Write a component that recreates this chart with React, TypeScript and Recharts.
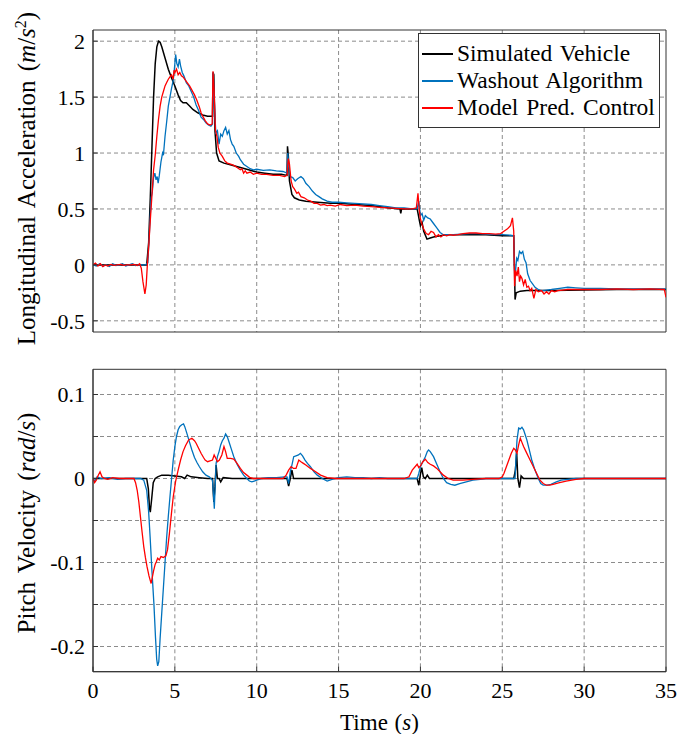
import { CartesianGrid, Legend, Line, LineChart, ReferenceArea, XAxis, YAxis } from 'recharts';

// time (s) ticks shared by both panels
const timeTicks = [0, 5, 10, 15, 20, 25, 30, 35];
const timeGrid = [5, 10, 15, 20, 25, 30];
const accTicks = [-0.5, 0, 0.5, 1, 1.5, 2];
const pitchTicks = [-0.2, -0.15, -0.1, -0.05, 0, 0.05, 0.1];

const seriesNames = ['Simulated Vehicle', 'Washout Algorithm', 'Model Pred. Control'];
const seriesColors = ['#000000', '#0072BD', '#FF0000'];

// longitudinal acceleration, [t, a]
const vehicleAcc: [number, number][] = [
  [0, 0], [1, 0], [2, 0], [3, 0], [3.28, 0], [3.4, 0.2], [3.5, 0.6], [3.6, 1.05], [3.7, 1.5], [3.8, 1.8],
  [3.9, 1.95], [4.0, 2.0], [4.1, 1.99], [4.2, 1.95], [4.4, 1.85], [4.6, 1.75], [4.8, 1.67], [5.0, 1.6],
  [5.2, 1.52], [5.35, 1.47], [5.5, 1.45], [5.7, 1.45], [5.9, 1.42], [6.1, 1.39], [6.4, 1.36], [6.7, 1.34],
  [7.0, 1.33], [7.3, 1.33], [7.33, 1.72], [7.38, 1.7], [7.45, 1.2], [7.55, 1.0], [7.7, 0.93], [8.0, 0.91],
  [8.5, 0.89], [9.0, 0.87], [9.5, 0.85], [10.0, 0.83], [10.5, 0.82], [11.0, 0.81], [11.5, 0.81],
  [11.85, 0.8], [11.88, 1.06], [11.93, 0.98], [12.0, 0.75], [12.15, 0.63], [12.3, 0.6], [12.6, 0.58],
  [13.0, 0.57], [13.7, 0.56], [14.5, 0.55], [15.1, 0.55], [16, 0.54], [17, 0.53], [18, 0.51],
  [18.75, 0.5], [18.8, 0.46], [18.85, 0.5], [19.5, 0.5], [19.8, 0.5], [19.88, 0.44], [19.93, 0.4],
  [20.0, 0.35], [20.1, 0.38], [20.2, 0.3], [20.4, 0.23], [20.6, 0.24], [20.8, 0.25], [21.2, 0.26],
  [21.6, 0.27], [22, 0.27], [23, 0.27], [24, 0.27], [25, 0.26], [25.7, 0.26], [25.75, -0.05],
  [25.78, -0.31], [25.85, -0.25], [26.1, -0.235], [26.5, -0.23], [27, -0.23], [28, -0.23],
  [30, -0.225], [32, -0.22], [35, -0.22],
];

const washoutAcc: [number, number][] = [
  [0, 0], [0.2, -0.01], [0.4, 0.01], [0.6, -0.01], [0.8, 0], [1.0, -0.015], [1.2, 0.01], [1.4, -0.005],
  [1.6, 0], [1.8, 0.01], [2.0, -0.01], [2.2, 0], [2.4, 0.01], [2.6, -0.005], [2.8, 0], [3.0, 0], [3.2, 0],
  [3.35, 0.02], [3.45, 0.3], [3.55, 0.6], [3.62, 0.65], [3.7, 0.78], [3.78, 0.82], [3.85, 0.76],
  [3.92, 0.79], [3.98, 0.73], [4.05, 0.8], [4.15, 0.92], [4.25, 1.0], [4.3, 0.98], [4.4, 1.15],
  [4.5, 1.28], [4.6, 1.42], [4.7, 1.5], [4.8, 1.58], [4.9, 1.65], [4.97, 1.75], [5.05, 1.88],
  [5.12, 1.8], [5.2, 1.77], [5.28, 1.84], [5.35, 1.78], [5.45, 1.72], [5.55, 1.69], [5.7, 1.63],
  [5.85, 1.6], [6.0, 1.55], [6.15, 1.5], [6.3, 1.43], [6.45, 1.38], [6.6, 1.32], [6.75, 1.3],
  [6.9, 1.27], [7.05, 1.25], [7.2, 1.24], [7.3, 1.26], [7.34, 1.72], [7.4, 1.5], [7.5, 1.18],
  [7.6, 1.2], [7.7, 1.08], [7.8, 1.17], [7.9, 1.15], [8.0, 1.2], [8.1, 1.23], [8.2, 1.17], [8.3, 1.2],
  [8.4, 1.12], [8.5, 1.08], [8.6, 1.06], [8.75, 1.0], [8.9, 0.97], [9.0, 0.94], [9.2, 0.9],
  [9.4, 0.88], [9.6, 0.86], [9.8, 0.85], [10.0, 0.855], [10.4, 0.845], [10.8, 0.85], [11.2, 0.84],
  [11.6, 0.835], [11.85, 0.82], [11.9, 1.0], [11.95, 0.88], [12.05, 0.79], [12.2, 0.78], [12.35, 0.75],
  [12.5, 0.77], [12.7, 0.79], [12.85, 0.77], [13.0, 0.73], [13.2, 0.7], [13.4, 0.66], [13.6, 0.63],
  [13.8, 0.61], [14.0, 0.59], [14.3, 0.57], [14.6, 0.56], [15, 0.56], [15.5, 0.555], [16, 0.55],
  [16.5, 0.545], [17, 0.54], [17.5, 0.53], [18, 0.52], [18.5, 0.51], [19, 0.51], [19.5, 0.5],
  [19.8, 0.5], [19.9, 0.57], [20.0, 0.44], [20.1, 0.46], [20.2, 0.4], [20.3, 0.44], [20.45, 0.42],
  [20.6, 0.41], [20.8, 0.37], [21.0, 0.33], [21.2, 0.29], [21.4, 0.27], [21.7, 0.27], [22, 0.27],
  [22.5, 0.275], [23, 0.28], [23.5, 0.28], [24, 0.275], [24.5, 0.27], [25, 0.27], [25.5, 0.265],
  [25.7, 0.26], [25.75, -0.05], [25.8, -0.07], [25.88, 0.06], [25.95, 0.04], [26.05, 0.12],
  [26.15, 0.1], [26.25, 0.12], [26.35, 0.05], [26.45, 0.02], [26.55, -0.08], [26.7, -0.14],
  [26.85, -0.17], [27.0, -0.2], [27.2, -0.22], [27.4, -0.23], [27.7, -0.225], [28.0, -0.22],
  [28.5, -0.21], [29.0, -0.2], [29.5, -0.205], [30, -0.21], [31, -0.21], [32, -0.215], [33, -0.215],
  [34, -0.215], [35, -0.215],
];

const mpcAcc: [number, number][] = [
  [0, 0], [0.15, 0.015], [0.3, -0.01], [0.45, 0.01], [0.6, -0.015], [0.75, 0], [0.9, -0.01],
  [1.1, 0.005], [1.3, -0.005], [1.5, 0], [1.7, 0.005], [1.9, -0.005], [2.1, 0], [2.3, 0], [2.5, 0.005],
  [2.7, -0.005], [2.85, 0.01], [2.95, -0.03], [3.05, -0.15], [3.17, -0.26], [3.25, -0.18], [3.32, 0],
  [3.4, 0.16], [3.5, 0.4], [3.6, 0.62], [3.7, 0.85], [3.8, 0.98], [3.9, 1.15], [4.0, 1.3], [4.1, 1.42],
  [4.2, 1.5], [4.3, 1.55], [4.4, 1.6], [4.5, 1.63], [4.6, 1.66], [4.7, 1.68], [4.8, 1.7], [4.9, 1.66],
  [4.95, 1.74], [5.0, 1.72], [5.1, 1.75], [5.2, 1.7], [5.3, 1.72], [5.4, 1.69], [5.5, 1.68],
  [5.6, 1.66], [5.75, 1.63], [5.9, 1.6], [6.05, 1.56], [6.2, 1.52], [6.35, 1.47], [6.5, 1.41],
  [6.6, 1.36], [6.7, 1.33], [6.85, 1.29], [7.0, 1.26], [7.15, 1.25], [7.28, 1.26], [7.33, 1.73],
  [7.4, 1.55], [7.48, 1.2], [7.57, 1.15], [7.65, 1.05], [7.75, 1.0], [7.9, 0.97], [8.05, 0.93],
  [8.2, 0.91], [8.4, 0.9], [8.6, 0.89], [8.8, 0.87], [9.0, 0.85], [9.1, 0.86], [9.2, 0.82], [9.3, 0.84],
  [9.4, 0.82], [9.6, 0.83], [9.8, 0.81], [10.0, 0.82], [10.3, 0.81], [10.6, 0.81], [11.0, 0.8],
  [11.4, 0.8], [11.7, 0.79], [11.85, 0.8], [11.93, 0.95], [12.0, 0.9], [12.1, 0.75], [12.2, 0.7],
  [12.3, 0.68], [12.45, 0.64], [12.55, 0.65], [12.7, 0.61], [12.9, 0.6], [13.1, 0.58], [13.3, 0.57],
  [13.5, 0.55], [13.7, 0.55], [13.9, 0.535], [14.1, 0.54], [14.3, 0.53], [14.5, 0.535], [14.8, 0.525],
  [15.1, 0.54], [15.5, 0.53], [16, 0.535], [16.5, 0.525], [17, 0.52], [17.5, 0.515], [18, 0.51],
  [18.5, 0.505], [19, 0.5], [19.5, 0.5], [19.75, 0.51], [19.85, 0.64], [19.92, 0.5], [20.0, 0.41],
  [20.1, 0.36], [20.2, 0.32], [20.35, 0.28], [20.5, 0.27], [20.65, 0.3], [20.8, 0.29], [20.95, 0.25],
  [21.1, 0.27], [21.25, 0.25], [21.4, 0.27], [21.6, 0.26], [21.8, 0.27], [22, 0.265], [22.3, 0.27],
  [22.6, 0.28], [23, 0.285], [23.4, 0.285], [23.8, 0.28], [24.2, 0.28], [24.6, 0.275], [24.9, 0.28],
  [25.1, 0.3], [25.3, 0.32], [25.5, 0.35], [25.62, 0.42], [25.7, 0.3], [25.75, -0.19], [25.82, -0.05],
  [25.9, -0.1], [25.98, -0.02], [26.05, -0.15], [26.12, -0.1], [26.2, -0.12], [26.3, -0.18],
  [26.4, -0.13], [26.5, -0.2], [26.6, -0.19], [26.7, -0.23], [26.8, -0.21], [26.93, -0.3],
  [27.05, -0.22], [27.2, -0.24], [27.4, -0.23], [27.55, -0.26], [27.7, -0.24], [27.85, -0.26],
  [28.0, -0.23], [28.2, -0.24], [28.4, -0.23], [28.7, -0.225], [29.0, -0.22], [29.5, -0.22],
  [30, -0.22], [31, -0.22], [32, -0.215], [33, -0.22], [34, -0.215], [34.9, -0.22], [35, -0.29],
];

// pitch velocity, [t, q]
const vehiclePitch: [number, number][] = [
  [0, 0], [1, 0], [2, 0], [3, 0], [3.28, 0], [3.38, -0.012], [3.45, -0.035], [3.5, -0.04],
  [3.58, -0.025], [3.68, -0.005], [3.8, 0], [3.95, 0.002], [4.2, 0.004], [4.6, 0.004], [5.0, 0.003],
  [5.4, 0.002], [5.6, 0], [5.75, 0.004], [6.0, 0.002], [6.5, 0.001], [7.0, 0], [7.3, 0],
  [7.38, -0.028], [7.45, -0.01], [7.52, 0.016], [7.6, 0], [7.7, 0], [7.8, -0.004], [7.95, 0.001],
  [8.5, 0], [9, 0], [10, 0], [11, 0], [11.85, 0], [11.95, -0.009], [12.05, 0], [12.15, 0.01],
  [12.25, 0], [12.5, 0], [13, 0], [15, 0], [17, 0], [19, 0], [19.8, 0], [19.9, -0.008], [20.0, 0.005],
  [20.08, 0.013], [20.18, 0.002], [20.3, 0], [20.42, 0.004], [20.55, 0], [22, 0], [24, 0], [25.7, 0],
  [25.8, 0.01], [25.88, 0.03], [25.95, 0], [26.05, -0.011], [26.15, 0.003], [26.3, 0], [27, 0],
  [30, 0], [35, 0],
];

const washoutPitch: [number, number][] = [
  [0, 0], [0.1, -0.003], [0.25, 0.002], [0.5, 0], [1, 0.001], [1.5, -0.001], [2, 0], [2.5, 0],
  [2.9, 0], [3.1, -0.002], [3.28, -0.014], [3.4, -0.04], [3.49, -0.07], [3.6, -0.11], [3.72, -0.149],
  [3.82, -0.19], [3.89, -0.215], [3.95, -0.223], [4.02, -0.218], [4.1, -0.19], [4.2, -0.16],
  [4.3, -0.13], [4.4, -0.1], [4.5, -0.07], [4.6, -0.045], [4.7, -0.022], [4.8, 0], [4.9, 0.022],
  [5.0, 0.038], [5.1, 0.05], [5.2, 0.058], [5.3, 0.062], [5.42, 0.064], [5.53, 0.065], [5.6, 0.062],
  [5.73, 0.054], [5.9, 0.043], [6.04, 0.034], [6.2, 0.025], [6.35, 0.019], [6.5, 0.014], [6.7, 0.008],
  [6.9, 0.004], [7.1, 0.002], [7.3, -0.002], [7.36, -0.02], [7.41, -0.036], [7.46, -0.01],
  [7.52, 0.018], [7.6, 0.026], [7.7, 0.032], [7.8, 0.04], [7.9, 0.045], [8.0, 0.048], [8.1, 0.053],
  [8.2, 0.05], [8.3, 0.044], [8.45, 0.035], [8.6, 0.026], [8.8, 0.017], [9.0, 0.01], [9.2, 0.004],
  [9.4, 0], [9.55, -0.003], [9.7, -0.004], [9.85, -0.003], [10.0, -0.002], [10.3, 0], [10.7, 0.001],
  [11.2, 0.001], [11.7, 0.002], [11.85, 0.002], [11.95, -0.006], [12.05, 0.008], [12.15, 0.016],
  [12.26, 0.026], [12.4, 0.027], [12.55, 0.028], [12.67, 0.03], [12.8, 0.027], [12.95, 0.022],
  [13.1, 0.018], [13.28, 0.014], [13.5, 0.008], [13.7, 0.004], [14.0, 0], [14.3, -0.003],
  [14.6, -0.001], [15, 0.001], [15.5, 0.002], [16, 0.001], [16.5, 0.001], [17, 0], [17.5, 0.001],
  [18, 0], [19, 0], [19.8, 0], [19.9, 0.006], [20.0, 0.014], [20.15, 0.02], [20.3, 0.026],
  [20.42, 0.032], [20.5, 0.034], [20.6, 0.032], [20.8, 0.026], [21.0, 0.017], [21.2, 0.008],
  [21.4, 0], [21.6, -0.005], [21.85, -0.007], [22.1, -0.008], [22.4, -0.006], [22.8, -0.004],
  [23.2, -0.002], [23.65, -0.001], [24, 0], [25, 0], [25.78, 0], [25.85, 0.03], [25.9, 0.046],
  [26.0, 0.06], [26.1, 0.059], [26.2, 0.061], [26.3, 0.058], [26.4, 0.052], [26.5, 0.046],
  [26.65, 0.034], [26.8, 0.022], [27.0, 0.01], [27.2, 0], [27.35, -0.006], [27.5, -0.008],
  [27.75, -0.008], [27.97, -0.007], [28.3, -0.004], [28.6, -0.002], [29, -0.001], [29.5, 0],
  [30, 0], [32, 0], [35, 0],
];

const mpcPitch: [number, number][] = [
  [0, 0], [0.1, -0.005], [0.2, -0.002], [0.3, 0.003], [0.43, 0.008], [0.55, 0.002], [0.7, 0],
  [0.9, -0.001], [1.2, 0.001], [1.6, 0], [2.0, 0], [2.3, 0], [2.5, 0], [2.6, -0.005], [2.7, -0.014],
  [2.8, -0.028], [2.9, -0.046], [3.0, -0.064], [3.1, -0.081], [3.2, -0.094], [3.3, -0.105],
  [3.42, -0.116], [3.55, -0.125], [3.62, -0.118], [3.7, -0.11], [3.8, -0.102], [3.87, -0.099],
  [3.95, -0.095], [4.05, -0.097], [4.15, -0.093], [4.3, -0.094], [4.45, -0.092], [4.55, -0.085],
  [4.67, -0.065], [4.8, -0.04], [4.9, -0.022], [5.05, -0.003], [5.2, 0.01], [5.35, 0.022],
  [5.5, 0.032], [5.65, 0.039], [5.84, 0.046], [6.04, 0.048], [6.2, 0.045], [6.3, 0.042],
  [6.45, 0.036], [6.6, 0.03], [6.75, 0.025], [6.85, 0.022], [7.0, 0.02], [7.15, 0.021], [7.3, 0.022],
  [7.4, 0.028], [7.5, 0.024], [7.6, 0.02], [7.72, 0.022], [7.87, 0.028], [8.0, 0.038], [8.1, 0.032],
  [8.2, 0.024], [8.4, 0.024], [8.6, 0.023], [8.8, 0.018], [9.0, 0.012], [9.2, 0.007], [9.4, 0.004],
  [9.6, 0.001], [9.8, 0], [10.2, 0], [11, 0], [11.6, 0], [11.8, 0.004], [11.95, 0.01], [12.1, 0.014],
  [12.25, 0.012], [12.4, 0.012], [12.57, 0.022], [12.7, 0.02], [12.85, 0.018], [13.0, 0.016],
  [13.28, 0.012], [13.6, 0.008], [13.9, 0.004], [14.3, 0.001], [14.8, 0], [16, 0], [18, 0], [19.0, 0],
  [19.3, 0.002], [19.5, 0.01], [19.8, 0.017], [19.9, 0.013], [20.0, 0.015], [20.15, 0.02],
  [20.3, 0.023], [20.45, 0.019], [20.6, 0.017], [20.8, 0.015], [21.0, 0.012], [21.2, 0.008],
  [21.4, 0.004], [21.7, 0], [22.0, -0.002], [22.6, -0.002], [23.2, -0.001], [24, 0], [24.8, 0],
  [25.0, 0.002], [25.1, 0.006], [25.25, 0.014], [25.4, 0.022], [25.55, 0.03], [25.7, 0.036],
  [25.8, 0.034], [25.9, 0.03], [26.0, 0.04], [26.1, 0.048], [26.2, 0.043], [26.3, 0.038],
  [26.45, 0.032], [26.6, 0.026], [26.75, 0.02], [26.9, 0.014], [27.1, 0.006], [27.3, -0.002],
  [27.5, -0.006], [27.7, -0.008], [27.9, -0.008], [28.1, -0.007], [28.5, -0.005], [28.9, -0.003],
  [29.5, -0.001], [30, 0], [32, 0], [35, 0],
];

const toPoints = (arr: [number, number][]) => arr.map(([t, v]) => ({ t, v }));

const FONT = '"Liberation Serif", "Times New Roman", serif';
const AXIS = '#333333';
const GRID = '#8c8c8c';
const tickStyle = { fill: '#000', fontSize: 22, style: { fontFamily: FONT } };

function AxisTitle({ ax, ay, rotate, children }: any) {
  return (
    <text
      x={ax}
      y={ay}
      transform={rotate ? `rotate(-90 ${ax} ${ay})` : undefined}
      textAnchor="middle"
      style={{ fontFamily: FONT, fontSize: rotate ? 25 : 23, wordSpacing: rotate ? 3 : 1 }}
      fill="#000"
    >
      {children}
    </text>
  );
}

function LegendBox() {
  return (
    <div
      style={{
        border: `1.3px solid ${AXIS}`,
        background: '#fff',
        padding: '6px 4px 6px 3px',
        fontFamily: FONT,
        fontSize: 23.5,
        wordSpacing: 2,
        lineHeight: '27px',
        color: '#000',
      }}
    >
      {seriesNames.map((name, i) => (
        <div key={name} style={{ display: 'flex', alignItems: 'center', whiteSpace: 'nowrap' }}>
          <span style={{ display: 'inline-block', width: 31, height: 2, background: seriesColors[i], marginRight: 4 }} />
          <span>{name}</span>
        </div>
      ))}
    </div>
  );
}

const accLabel = (v: number) => String(v);
const pitchLabel = (v: number) =>
  Math.abs(v * 10 - Math.round(v * 10)) < 1e-9 ? String(Math.round(v * 10) / 10) : '';
const blank = () => '';

const axisCommon = {
  type: 'number' as const,
  allowDataOverflow: true,
  axisLine: { stroke: AXIS, strokeWidth: 1 },
  tickLine: { stroke: AXIS, strokeWidth: 1 },
  tickSize: -5,
};

export default function App() {
  const accSeries = [vehicleAcc, washoutAcc, mpcAcc];
  const pitchSeries = [vehiclePitch, washoutPitch, mpcPitch];
  return (
    <div style={{ position: 'absolute', left: 0, top: 0, width: 683, height: 734, background: '#fff', fontFamily: FONT }}>
      <div style={{ position: 'absolute', left: 0, top: 0 }}>
        <LineChart width={683} height={345} margin={{ top: 30, right: 17, bottom: 13, left: 0 }}>
          <CartesianGrid xAxisId="b" yAxisId="l" stroke={GRID} strokeDasharray="4 3"
            verticalValues={timeGrid} horizontalValues={accTicks} />
          <XAxis {...axisCommon} xAxisId="b" dataKey="t" domain={[0, 35]} ticks={timeTicks}
            height={0} tickFormatter={blank} />
          <XAxis {...axisCommon} xAxisId="top" orientation="top" domain={[0, 35]} ticks={timeTicks}
            height={0} tickFormatter={blank} />
          <YAxis {...axisCommon} yAxisId="l" domain={[-0.6, 2.1]} ticks={accTicks} width={93}
            tickMargin={13} tick={tickStyle} tickFormatter={accLabel}
            label={
              <AxisTitle ax={35} ay={178.5} rotate>
                Longitudinal Acceleration (<tspan fontStyle="italic">m</tspan>/<tspan fontStyle="italic">s</tspan>
                <tspan dy={-9} fontSize={16}>2</tspan>
                <tspan dy={9}>)</tspan>
              </AxisTitle>
            }
          />
          <YAxis {...axisCommon} yAxisId="r" orientation="right" domain={[-0.6, 2.1]} ticks={accTicks}
            width={0} tickFormatter={blank} />
          <ReferenceArea xAxisId="b" yAxisId="l" x1={0} x2={35} y1={-0.6} y2={2.1}
            fill="none" stroke={AXIS} strokeWidth={1} />
          <Legend
            layout="horizontal" verticalAlign="middle" align="center"
            wrapperStyle={{ left: 418, top: 33, width: 'auto' }}
            content={<LegendBox />}
          />
          {accSeries.map((s, i) => (
            <Line key={seriesNames[i]} xAxisId="b" yAxisId="l" data={toPoints(s)} dataKey="v" name={seriesNames[i]}
              stroke={seriesColors[i]} strokeWidth={i === 0 ? 1.5 : 1.3} dot={false} isAnimationActive={false} />
          ))}
        </LineChart>
      </div>
      <div style={{ position: 'absolute', left: 0, top: 340 }}>
        <LineChart width={683} height={394} margin={{ top: 29.3, right: 17, bottom: 22.3, left: 0 }}>
          <CartesianGrid xAxisId="b" yAxisId="l" stroke={GRID} strokeDasharray="4 3"
            verticalValues={timeGrid} horizontalValues={pitchTicks} />
          <XAxis {...axisCommon} xAxisId="b" dataKey="t" domain={[0, 35]} ticks={timeTicks}
            height={40} tickMargin={16} tick={tickStyle}
            label={<AxisTitle ax={379.5} ay={390}>Time (<tspan fontStyle="italic">s</tspan>)</AxisTitle>}
          />
          <XAxis {...axisCommon} xAxisId="top" orientation="top" domain={[0, 35]} ticks={timeTicks}
            height={0} tickFormatter={blank} />
          <YAxis {...axisCommon} yAxisId="l" domain={[-0.23, 0.13]} ticks={pitchTicks} width={93}
            tickMargin={13} tick={tickStyle} tickFormatter={pitchLabel}
            label={
              <AxisTitle ax={35} ay={183} rotate>
                Pitch Velocity (<tspan fontStyle="italic">rad</tspan>/<tspan fontStyle="italic">s</tspan>)
              </AxisTitle>
            }
          />
          <YAxis {...axisCommon} yAxisId="r" orientation="right" domain={[-0.23, 0.13]} ticks={pitchTicks}
            width={0} tickFormatter={blank} />
          <ReferenceArea xAxisId="b" yAxisId="l" x1={0} x2={35} y1={-0.23} y2={0.13}
            fill="none" stroke={AXIS} strokeWidth={1} />
          {pitchSeries.map((s, i) => (
            <Line key={seriesNames[i]} xAxisId="b" yAxisId="l" data={toPoints(s)} dataKey="v" name={seriesNames[i]}
              stroke={seriesColors[i]} strokeWidth={i === 0 ? 1.5 : 1.3} dot={false} isAnimationActive={false} />
          ))}
        </LineChart>
      </div>
    </div>
  );
}
